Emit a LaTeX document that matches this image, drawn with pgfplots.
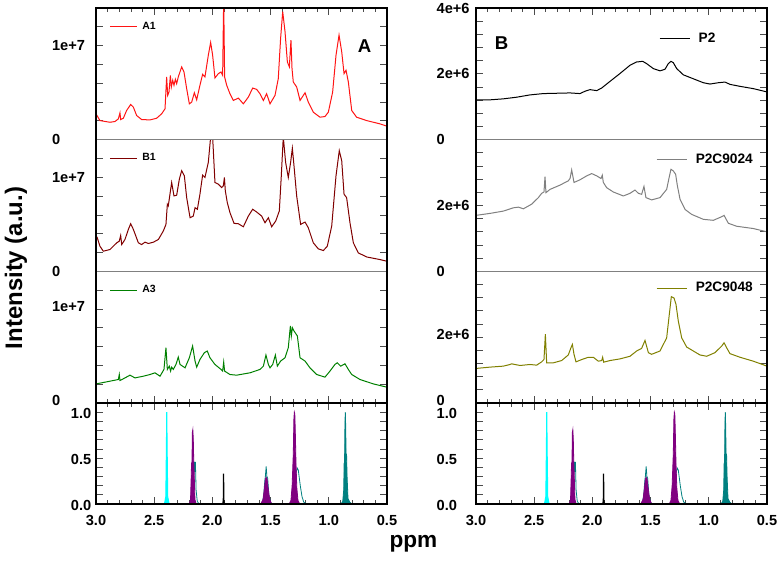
\documentclass[border=0pt]{standalone}
\usepackage{fontspec}
\setmainfont{Liberation Sans}
\usepackage{pgfplots}
\pgfplotsset{compat=1.18}

\definecolor{specred}{RGB}{255,20,20}
\definecolor{specmaroon}{RGB}{128,0,0}
\definecolor{specgreen}{RGB}{0,128,0}
\definecolor{specgray}{RGB}{128,128,128}
\definecolor{specolive}{RGB}{128,128,0}
\definecolor{pkcyan}{RGB}{0,255,255}
\definecolor{pkpurple}{RGB}{128,0,128}
\definecolor{pkteal}{RGB}{0,128,128}

\pgfplotsset{
  panel/.style={
    scale only axis, width=218.25bp, height=98.75bp,
    xmin=0.5, xmax=3, x dir=reverse,
    axis line style={draw=none},
    tick align=inside,
    tick style={black!70, line width=0.6bp},
    major tick length=5bp, minor tick length=3bp,
    xtick={0.5,1,1.5,2,2.5,3},
    minor x tick num=4,
    xticklabels={},
    ticklabel style={font=\fontsize{11}{13}\selectfont\bfseries},
    legend cell align=left,
  },
  leftspec/.style={panel, ymin=0, ymax=14,
    ytick={0,2,4,6,8,10,12}, yticklabels={0,,,,,1e+7,},
    yticklabel style={anchor=west, xshift=-36.5bp},
    legend style={draw=none, fill=none, inner sep=0pt, anchor=west,
      at={(0.045,0.858)}, font=\fontsize{7.9}{9}\selectfont\bfseries},
    legend image code/.code={\draw[#1] (0bp,0bp) -- (20bp,0bp); \path (22bp,0bp);},
  },
  rightspec/.style={panel, ymin=0, ymax=4,
    ytick={0,0.4,0.8,1.2,1.6,2,2.4,2.8,3.2,3.6}, yticklabels={0,,,,,2e+6,,,,},
    yticklabel style={anchor=west, xshift=-33bp},
    legend style={draw=none, fill=none, inner sep=0pt, anchor=west,
      font=\fontsize{10.3}{12}\selectfont\bfseries},
    legend image code/.code={\draw[#1] (0bp,0bp) -- (23bp,0bp); \path (27bp,0bp);},
  },
  peaks/.style={panel, height=75.75bp, ymin=0, ymax=1.1,
    ytick={0,0.1,0.2,0.3,0.4,0.5,0.6,0.7,0.8,0.9,1.0},
    yticklabels={0.0,,,,,0.5,,,,,1.0},
    xticklabels={0.5,1.0,1.5,2.0,2.5,3.0},
    xticklabel style={yshift=-5bp},
    yticklabel style={yshift=-0.8bp},
  },
}

% peak sets for the two lower panels
\newcommand{\peakset}{%
  \addplot[pkteal, line width=0.6bp] coordinates {(2.185,0) (2.170,0.05) (2.160,0.30) (2.155,0.46) (2.150,0.35) (2.146,0.46) (2.140,0.15) (2.130,0.03) (2.115,0)};
  \addplot[pkteal, line width=0.6bp] coordinates {(1.575,0) (1.560,0.08) (1.550,0.25) (1.545,0.30) (1.538,0.41) (1.532,0.30) (1.525,0.28) (1.515,0.10) (1.500,0.02) (1.490,0)};
  \addplot[pkteal, line width=0.6bp] coordinates {(1.330,0) (1.310,0.03) (1.300,0.10) (1.290,0.25) (1.280,0.35) (1.270,0.39) (1.262,0.37) (1.255,0.30) (1.245,0.20) (1.230,0.08) (1.215,0.02) (1.190,0)};
  \addplot[pkteal, fill=pkteal, line width=0.6bp] coordinates {(0.895,0) (0.880,0.03) (0.872,0.15) (0.868,0.45) (0.865,0.40) (0.861,0.90) (0.858,1.0) (0.855,0.85) (0.851,0.50) (0.847,0.52) (0.843,0.30) (0.835,0.06) (0.820,0.02) (0.800,0)} \closedcycle;
  \addplot[pkpurple, fill=pkpurple, line width=0.6bp] coordinates {(2.200,0) (2.188,0.04) (2.182,0.30) (2.179,0.45) (2.176,0.40) (2.172,0.78) (2.168,0.81) (2.164,0.70) (2.160,0.45) (2.157,0.35) (2.150,0.05) (2.140,0)} \closedcycle;
  \addplot[pkpurple, fill=pkpurple, line width=0.6bp] coordinates {(1.585,0) (1.565,0.05) (1.552,0.18) (1.545,0.27) (1.538,0.29) (1.530,0.27) (1.522,0.18) (1.508,0.05) (1.490,0)} \closedcycle;
  \addplot[pkpurple, fill=pkpurple, line width=0.6bp] coordinates {(1.340,0) (1.325,0.04) (1.315,0.20) (1.305,0.55) (1.300,0.92) (1.296,1.0) (1.292,0.98) (1.288,0.80) (1.282,0.45) (1.275,0.18) (1.265,0.04) (1.250,0)} \closedcycle;
  \addplot[pkcyan, fill=pkcyan, line width=0.8bp] coordinates {(2.412,0) (2.400,0.08) (2.395,0.6) (2.392,1.0) (2.389,0.6) (2.384,0.08) (2.372,0)} \closedcycle;
  \addplot[black, line width=0.9bp] coordinates {(1.910,0) (1.906,0.05) (1.904,0.33) (1.902,0.05) (1.898,0)};
}

\begin{document}
\begin{tikzpicture}
\useasboundingbox (0,0) rectangle (586.5bp,-421.5bp);

% ---------------- left column ----------------
\begin{axis}[leftspec, name=a1, at={(72bp,-6bp)}, anchor=north west, xtick pos=top]
\addplot[specred, line width=0.75bp] coordinates {
(3.000,2.75) (2.966,2.03) (2.880,1.85) (2.837,1.93) (2.808,2.21) (2.794,2.85) (2.788,2.14)
(2.765,2.28) (2.737,3.10) (2.702,3.74) (2.679,3.46) (2.651,2.57) (2.608,2.14) (2.536,2.10)
(2.479,2.28) (2.436,2.75) (2.407,3.28) (2.393,6.67) (2.384,4.71) (2.373,5.06) (2.361,6.84)
(2.353,5.60) (2.341,6.31) (2.330,5.78) (2.318,6.42) (2.307,5.95) (2.293,6.67) (2.264,7.74)
(2.244,7.20) (2.221,5.42) (2.198,3.81) (2.178,3.99) (2.155,4.99) (2.135,4.24) (2.107,5.78)
(2.084,6.95) (2.064,6.67) (2.035,8.98) (2.015,10.34) (1.998,8.98) (1.978,6.56) (1.949,7.02)
(1.926,7.20) (1.912,6.84) (1.903,15.0) (1.895,6.67) (1.877,5.78) (1.849,4.88) (1.820,4.17)
(1.777,4.42) (1.734,3.81) (1.691,4.53) (1.654,5.49) (1.620,5.35) (1.591,4.88) (1.562,4.17)
(1.534,4.88) (1.505,3.81) (1.462,4.71) (1.434,6.49) (1.414,10.77) (1.396,13.62) (1.376,11.48)
(1.356,8.27) (1.339,7.74) (1.325,10.59) (1.316,7.56) (1.305,6.13) (1.276,5.60) (1.247,4.17)
(1.204,4.99) (1.176,3.99) (1.133,2.92) (1.076,2.39) (1.033,2.46) (1.004,2.92) (0.967,5.06)
(0.938,8.98) (0.912,11.12) (0.889,9.34) (0.869,7.02) (0.852,7.38) (0.832,6.13) (0.803,3.10)
(0.761,2.39) (0.675,2.03) (0.560,1.68) (0.500,1.43)};
\addlegendentry{A1}
\end{axis}

\begin{axis}[leftspec, name=a2, at={(72bp,-104.75bp)}, anchor=north west, xtick=\empty]
\addplot[specmaroon, line width=0.75bp] coordinates {
(3.000,3.32) (2.989,3.57) (2.966,2.67) (2.937,2.14) (2.880,2.32) (2.822,3.03) (2.800,3.21)
(2.788,3.81) (2.779,2.85) (2.751,3.39) (2.722,4.46) (2.702,5.06) (2.679,4.46) (2.636,3.03)
(2.608,2.85) (2.579,3.10) (2.550,2.96) (2.507,3.10) (2.464,3.39) (2.422,4.28) (2.399,4.99)
(2.387,7.13) (2.379,6.95) (2.350,9.45) (2.330,8.02) (2.307,8.09) (2.284,9.80) (2.264,10.70)
(2.241,10.16) (2.221,7.84) (2.192,5.70) (2.164,5.88) (2.149,6.77) (2.129,6.60) (2.107,8.20)
(2.084,10.23) (2.064,9.98) (2.035,11.59) (2.015,14.3) (1.998,14.3) (1.978,9.45) (1.949,9.27)
(1.920,8.91) (1.906,9.09) (1.897,9.98) (1.889,8.56) (1.872,7.31) (1.849,6.24) (1.814,5.10)
(1.777,5.06) (1.734,4.74) (1.691,5.88) (1.654,6.60) (1.620,6.31) (1.577,5.88) (1.548,5.17)
(1.519,5.70) (1.491,4.74) (1.456,5.35) (1.425,6.42) (1.408,10.16) (1.391,14.3) (1.371,11.59)
(1.348,9.98) (1.328,11.59) (1.313,13.08) (1.299,11.23) (1.276,8.02) (1.242,4.99) (1.204,5.24)
(1.176,4.63) (1.133,3.03) (1.090,2.39) (1.047,2.21) (1.013,2.67) (0.975,4.81) (0.938,10.16)
(0.910,12.83) (0.889,11.76) (0.869,8.20) (0.847,7.84) (0.818,5.17) (0.789,3.03) (0.746,1.96)
(0.675,1.53) (0.560,1.25) (0.500,1.07)};
\addlegendentry{B1}
\end{axis}

\begin{axis}[leftspec, name=a3, at={(72bp,-203.5bp)}, anchor=north west, xtick pos=bottom,
  yticklabel style={yshift=1.8bp}]
\addplot[specgreen, line width=0.75bp] coordinates {
(3.000,2.03) (2.880,2.32) (2.808,2.50) (2.800,3.03) (2.794,2.39) (2.751,2.67) (2.708,2.96)
(2.665,2.67) (2.593,2.85) (2.536,3.03) (2.493,3.21) (2.450,2.85) (2.416,3.57) (2.399,5.88)
(2.387,3.57) (2.370,3.92) (2.359,3.39) (2.350,3.81) (2.336,3.57) (2.313,4.10) (2.293,4.88)
(2.278,4.10) (2.235,3.74) (2.198,4.81) (2.170,6.06) (2.149,4.46) (2.135,3.81) (2.107,4.63)
(2.069,5.35) (2.044,5.53) (2.021,4.81) (1.978,4.10) (1.926,3.57) (1.912,3.39) (1.903,4.35)
(1.895,3.39) (1.849,3.03) (1.792,2.96) (1.677,3.21) (1.591,3.57) (1.562,3.92) (1.540,5.10)
(1.519,4.10) (1.505,3.74) (1.482,4.10) (1.459,5.10) (1.442,3.92) (1.414,4.46) (1.376,4.81)
(1.348,5.88) (1.330,8.20) (1.322,7.13) (1.313,8.00) (1.299,7.66) (1.270,7.13) (1.247,4.81)
(1.204,4.46) (1.162,3.74) (1.104,3.03) (1.033,2.75) (0.990,3.39) (0.947,4.10) (0.927,4.28)
(0.898,3.92) (0.861,4.17) (0.832,3.57) (0.803,3.03) (0.732,2.50) (0.617,2.03) (0.500,1.68)};
\addlegendentry{A3}
\end{axis}

\begin{axis}[peaks, name=a4, at={(72bp,-302.25bp)}, anchor=north west]
\peakset
\end{axis}

% ---------------- right column ----------------
\begin{axis}[rightspec, name=b1, at={(357bp,-6bp)}, anchor=north west, xtick pos=top,
  ytick={0,0.4,0.8,1.2,1.6,2,2.4,2.8,3.2,3.6,4}, yticklabels={0,,,,,2e+6,,,,,4e+6},
  legend style={at={(0.628,0.770)}}]
\addplot[black, line width=0.75bp] coordinates {
(3.000,1.21) (2.880,1.21) (2.765,1.24) (2.651,1.29) (2.536,1.36) (2.422,1.40) (2.307,1.41)
(2.192,1.42) (2.107,1.40) (2.064,1.47) (2.021,1.52) (1.963,1.49) (1.920,1.57) (1.849,1.77)
(1.763,2.01) (1.677,2.26) (1.620,2.36) (1.568,2.38) (1.534,2.31) (1.477,2.16) (1.419,2.09)
(1.376,2.14) (1.348,2.31) (1.325,2.38) (1.305,2.34) (1.276,2.16) (1.219,1.97) (1.133,1.85)
(1.047,1.73) (0.990,1.69) (0.918,1.73) (0.861,1.75) (0.818,1.68) (0.732,1.62) (0.617,1.55)
(0.500,1.45)};
\addlegendentry{P2}
\end{axis}

\begin{axis}[rightspec, name=b2, at={(357bp,-104.75bp)}, anchor=north west, xtick=\empty,
  legend style={at={(0.618,0.846)}}]
\addplot[specgray, line width=0.75bp] coordinates {
(3.000,1.70) (2.880,1.76) (2.765,1.83) (2.679,1.93) (2.636,1.95) (2.593,1.90) (2.522,2.04)
(2.464,2.24) (2.436,2.37) (2.416,2.41) (2.407,2.88) (2.399,2.39) (2.364,2.49) (2.278,2.62)
(2.207,2.75) (2.192,2.82) (2.178,3.08) (2.158,2.70) (2.107,2.78) (2.049,2.90) (2.006,2.97)
(1.963,2.90) (1.926,2.82) (1.915,2.92) (1.906,2.70) (1.877,2.54) (1.820,2.41) (1.734,2.29)
(1.677,2.37) (1.634,2.47) (1.605,2.37) (1.577,2.34) (1.557,2.58) (1.540,2.24) (1.491,2.17)
(1.419,2.24) (1.362,2.49) (1.339,2.88) (1.325,3.10) (1.305,3.05) (1.285,2.95) (1.270,2.60)
(1.247,2.19) (1.204,1.88) (1.147,1.73) (1.047,1.58) (0.961,1.55) (0.889,1.66) (0.869,1.70)
(0.832,1.46) (0.761,1.37) (0.617,1.30) (0.500,1.20)};
\addlegendentry{P2C9024}
\end{axis}

\begin{axis}[rightspec, name=b3, at={(357bp,-203.5bp)}, anchor=north west, xtick pos=bottom,
  yticklabel style={yshift=1.8bp}, legend style={at={(0.618,0.873)}}]
\addplot[specolive, line width=0.75bp] coordinates {
(3.000,1.05) (2.880,1.09) (2.765,1.12) (2.708,1.17) (2.694,1.19) (2.622,1.14) (2.536,1.17)
(2.479,1.15) (2.436,1.25) (2.416,1.32) (2.404,2.09) (2.393,1.22) (2.336,1.22) (2.264,1.29)
(2.207,1.46) (2.184,1.68) (2.172,1.78) (2.158,1.48) (2.141,1.25) (2.092,1.32) (2.035,1.39)
(1.992,1.39) (1.949,1.27) (1.920,1.29) (1.912,1.39) (1.903,1.24) (1.849,1.29) (1.763,1.34)
(1.677,1.42) (1.620,1.58) (1.577,1.66) (1.548,1.90) (1.519,1.53) (1.491,1.48) (1.419,1.58)
(1.362,1.98) (1.339,2.70) (1.322,3.23) (1.299,3.19) (1.282,3.00) (1.262,2.49) (1.233,1.98)
(1.190,1.70) (1.133,1.58) (1.076,1.46) (1.018,1.42) (0.947,1.53) (0.889,1.73) (0.869,1.83)
(0.847,1.68) (0.818,1.50) (0.732,1.39) (0.617,1.27) (0.500,1.12)};
\addlegendentry{P2C9048}
\end{axis}

\begin{axis}[peaks, name=b4, at={(357bp,-302.25bp)}, anchor=north west,
  yticklabel style={anchor=west, xshift=-33bp}]
\peakset
\end{axis}

% frames and separators
\foreach \c in {a,b}{
  \draw[gray, line width=0.75bp] (\c1.south west) -- (\c1.south east);
  \draw[gray, line width=0.75bp] (\c2.south west) -- (\c2.south east);
  \draw[black, line width=1.5bp] (\c3.south west) -- (\c3.south east);
  \draw[black, line width=1.5bp] (\c1.north west) rectangle (\c4.south east);
}

\node[font=\fontsize{14}{16}\selectfont\bfseries] at (273.4bp,-34.9bp) {A};
\node[font=\fontsize{14}{16}\selectfont\bfseries] at (376.1bp,-32.6bp) {B};
\node[font=\fontsize{18}{20}\selectfont\bfseries, rotate=90] at (12bp,-201bp) {Intensity (a.u.)};
\node[font=\fontsize{17}{19}\selectfont\bfseries] at (310.1bp,-407.5bp) {ppm};
\end{tikzpicture}
\end{document}
